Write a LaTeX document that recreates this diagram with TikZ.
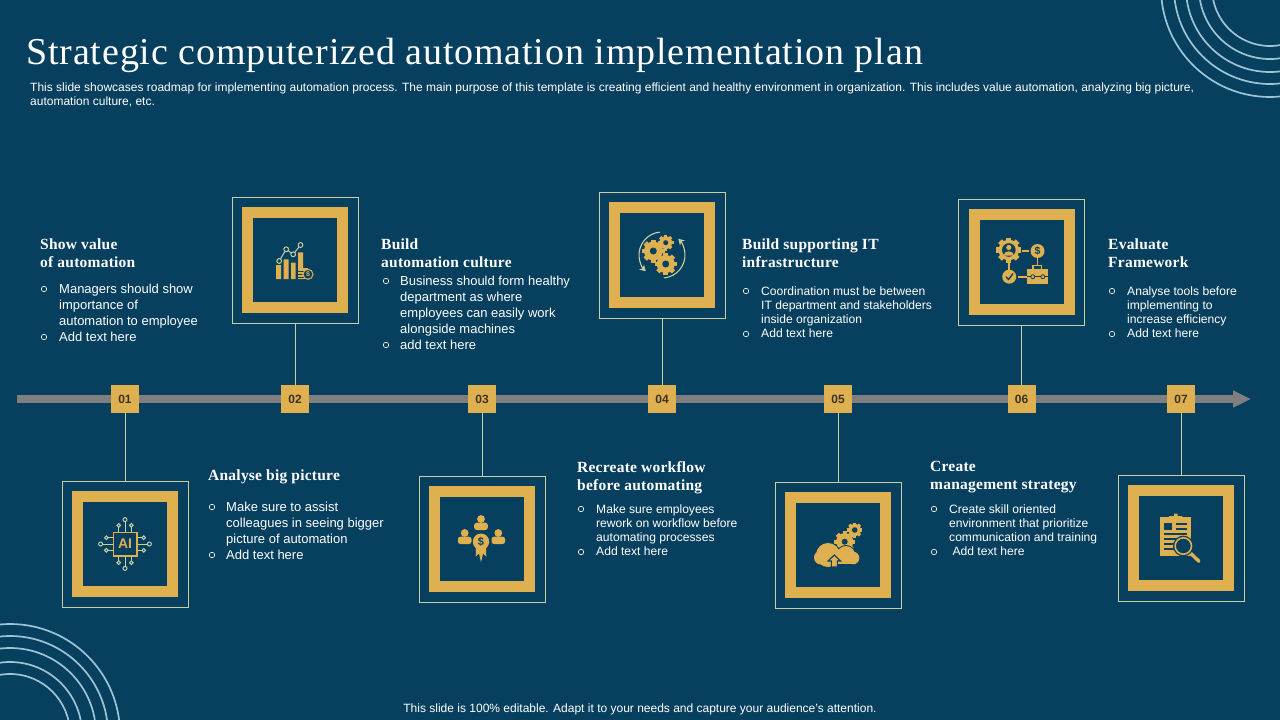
\documentclass[tikz,border=0pt]{standalone}
\usepackage{fontspec}
\setmainfont{Liberation Sans}
\newfontfamily\headfont[LetterSpace=1.5]{Liberation Serif}
\newfontfamily\titlefont[LetterSpace=2.3]{Liberation Serif}
\usetikzlibrary{positioning,arrows.meta,calc}
\definecolor{navy}{HTML}{07405F}
\definecolor{gold}{HTML}{DFB04F}
\definecolor{pale}{HTML}{C6D0A0}
\definecolor{ring}{HTML}{9DC3D6}
\definecolor{barcolor}{HTML}{7F7F7F}
\definecolor{numcolor}{HTML}{3A3320}
\tikzset{step node/.style={rectangle,fill=gold,minimum size=28pt,inner sep=0pt,outer sep=0pt,text=numcolor,font=\fontsize{12}{14}\selectfont\bfseries} }
\tikzset{tile node/.style={rectangle,draw=pale,line width=0.8pt,minimum size=126pt,inner sep=0pt,outer sep=0pt} }
\tikzset{frame node/.style={rectangle,draw=gold,line width=11pt,minimum size=95pt,inner sep=0pt} }
\tikzset{head text/.style={anchor=north west,inner sep=0pt,align=left,text=white,font=\fontsize{15.5}{18}\selectfont\headfont\bfseries} }
\tikzset{big text/.style={anchor=north west,inner sep=0pt,align=left,text=white,font=\fontsize{13}{16}\selectfont} }
\tikzset{small text/.style={anchor=north west,inner sep=0pt,align=left,text=white,font=\fontsize{12.1}{14}\selectfont} }
\tikzset{ring mark/.style={circle,draw=white,line width=0.6pt,minimum size=5.5pt,inner sep=0pt} }
\newcommand{\gearglyph}[4]{
  \fill[gold] (#1,#2) circle ({0.82*#3});
  \foreach \a in {0,45,...,315}
    \draw[gold,line width={0.42*#3}] (#1,#2) ++(\a:{0.7*#3}) -- ++(\a:{0.3*#3});
  \fill[navy] (#1,#2) circle (#4);
}
\newcommand{\personglyph}[2]{
  \fill[gold] (#1,#2) circle (3.9);
  \fill[gold,rounded corners=2.5pt] ({#1-6.8},{#2+3.7}) rectangle ({#1+6.8},{#2+11});
}
\tikzset{
  chart icon/.pic={
    \fill[gold] (-19,5) rectangle (-14,19) (-11.5,-0.7) rectangle (-6.5,19) (-4,2.7) rectangle (0.5,19) (3,-7.7) rectangle (8,19);
    \fill[gold] (3,8) rectangle (13,19);
    \foreach \y in {11,14,17} \draw[navy,line width=0.7pt] (3,\y) -- (13,\y);
    \draw[pale,line width=1pt] (-15.8,1) -- (-8.8,-10.7) -- (-1.8,-5.7) -- (5.5,-15);
    \foreach \p in {(-15.8,1),(-8.8,-10.7),(-1.8,-5.7),(5.5,-15)}
      \draw[pale,line width=1pt,fill=navy] \p circle (2.4);
    \draw[gold,line width=1pt,fill=navy] (13,14.3) circle (5);
    \node[text=gold,inner sep=0pt,font=\fontsize{7}{7}\selectfont\bfseries] (coin) at (13,14.3) {\$};
  },
  gears icon/.pic={
    \gearglyph{-8.7}{-4}{11.5}{3.5}
    \gearglyph{3.7}{-12.3}{7.8}{2.5}
    \gearglyph{3.7}{9}{11}{3.5}
    \draw[pale,line width=1.1pt,-{Stealth[length=6pt,width=7pt]}] (265:23) arc (265:135:23);
    \draw[pale,line width=1.1pt,-{Stealth[length=6pt,width=7pt]}] (85:23) arc (85:-45:23);
  },
  network icon/.pic={
    \draw[gold,line width=1.6pt] (0.5,-11) -- (7,-11) (16,-4) -- (16,3) (-12.5,0) -- (-12.5,8) (-4,14.7) -- (5,14.7);
    \gearglyph{-12.7}{-12}{12.5}{6.8}
    \fill[gold] (-12.7,-14.5) circle (2.6);
    \fill[gold] (-17.9,-6.5) arc (180:360:5.2 and 4.2) -- cycle;
    \fill[gold] (16,-11) circle (7);
    \node[text=navy,inner sep=0pt,font=\fontsize{10.5}{10.5}\selectfont\bfseries] (dollar) at (16,-11) {\$};
    \fill[gold] (-12.3,14.7) circle (7);
    \draw[navy,line width=1.3pt] (-15.5,14.7) -- (-13,17.5) -- (-8.5,11.5);
    \draw[gold,line width=1.4pt] (11.5,7) -- (11.5,3.5) -- (20,3.5) -- (20,7);
    \fill[gold] (5.3,7) rectangle (26,22.3);
    \draw[navy,line width=0.8pt] (5.3,14.7) -- (9.3,14.7) (13.3,14.7) -- (19.3,14.7) (23.3,14.7) -- (26,14.7);
    \draw[navy,line width=0.8pt] (11.3,14.7) circle (2) (21.3,14.7) circle (2);
  },
  chip icon/.pic={
    \foreach \a in {0,90,180,270} {
      \begin{scope}[rotate=\a]
        \draw[pale,line width=1pt] (-6.3,-11.7) -- (-6.3,-17) (6.3,-11.7) -- (6.3,-17) (0,-11.7) -- (0,-22.5);
        \draw[pale,line width=1pt] (-6.3,-18.7) circle (1.8) (6.3,-18.7) circle (1.8) (0,-24.4) circle (2);
      \end{scope}
    }
    \draw[gold,line width=1.6pt] (-11.7,-11.7) rectangle (11.7,11.7);
    \node[text=gold,inner sep=0pt,font=\fontsize{14}{14}\selectfont\bfseries] (chip) at (0,0) {AI};
  },
  team icon/.pic={
    \personglyph{-1}{-20}
    \personglyph{-17.3}{-6}
    \personglyph{16.3}{-6}
    \fill[gold] (-1,2.7) circle (8.2);
    \fill[gold] (-6,8) -- (-6.3,17.7) -- (-3,14.5) -- (-1,23.3) -- (1,14.5) -- (4.3,17.7) -- (4,8) -- cycle;
    \node[text=navy,inner sep=0pt,font=\fontsize{11}{11}\selectfont\bfseries] (rocket) at (-1,3) {\$};
  },
  cloud icon/.pic={
    \gearglyph{6.7}{-3.3}{10.5}{3}
    \gearglyph{16.7}{-15}{7.5}{2.8}
    \fill[navy] (-10,10) circle (13) (8,10) circle (10);
    \fill[gold] (-17,12.5) circle (7) (-10,10) circle (12) (8,10) circle (9) (15,13) circle (6.3);
    \fill[gold] (-17,12) rectangle (15,19.3);
    \draw[navy,line width=1.1pt,fill=gold] (-3.7,10) -- (2.5,16) -- (-0.7,16) -- (-0.7,22) -- (-6.7,22) -- (-6.7,16) -- (-9.9,16) -- cycle;
  },
  report icon/.pic={
    \fill[gold] (-21,-21) rectangle (10,18);
    \fill[gold] (-12,-22) rectangle (1.3,-18) (-7,-24.5) rectangle (-3.5,-21);
    \fill[navy] (-16.7,-15) rectangle (-9.3,-7.7);
    \draw[navy,line width=1.6pt] (-5,-14.3) -- (6.3,-14.3) (-5,-9.3) -- (6.3,-9.3) (-16.7,-4.3) -- (6.3,-4.3)
      (-16.7,0.7) -- (-1,0.7) (-16.7,5.7) -- (-6,5.7) (-16.7,10.7) -- (-6,10.7);
    \draw[gold,line width=3.4pt,line cap=round] (9,14.7) -- (18,23.3);
    \draw[navy,line width=3.6pt] (2.3,8) circle (8.5);
    \draw[gold,line width=1.6pt,fill=navy] (2.3,8) circle (8.2);
  }
}

\begin{document}
\begin{tikzpicture}[x=1pt,y=-1pt]
\useasboundingbox (0,0) rectangle (1280,720);
\fill[navy] (0,0) rectangle (1280,720);
\begin{scope}
  \clip (0,0) rectangle (1280,720);
  \foreach \r in {58,71,84,96,109}
    \draw[ring,line width=1.7pt] (1270,-12) circle (\r);
  \foreach \r in {60,72,86,98,110}
    \draw[ring,line width=1.7pt] (10,734) circle (\r);
\end{scope}

\node[anchor=base west,inner sep=0pt,text=white,font=\fontsize{38}{40}\selectfont\titlefont] (title) at (26,64) {Strategic computerized automation implementation plan};
\node[small text,font=\fontsize{12}{14}\selectfont] (intro) at (30,83) {This slide showcases roadmap for implementing automation process. The main purpose of this template is creating efficient and healthy environment in organization. This includes value automation, analyzing big picture,\\automation culture, etc.};
\node[anchor=center,inner sep=0pt,text=white,font=\fontsize{12}{14}\selectfont] (footer) at (640,709) {This slide is 100\% editable. Adapt it to your needs and capture your audience's attention.};

\begin{scope}[on grid]
  \coordinate (barstart) at (17,399);
  \coordinate (barend) at (1251,399);
  \draw[barcolor,line width=8pt,-{Triangle[length=18pt,width=16pt]}] (barstart) -- (barend);

  \node[step node] (b1) at (125,399) {01};
  \node[step node] (b2) [right =170pt of b1] {02};
  \node[step node] (b3) [right =187pt of b2] {03};
  \node[step node] (b4) [right =180pt of b3] {04};
  \node[step node] (b5) [right =176pt of b4] {05};
  \node[step node] (b6) [right =183.5pt of b5] {06};
  \node[step node] (b7) [right =159.5pt of b6] {07};

  \node[tile node] (t1) [below =145pt of b1] {};
  \node[tile node] (t2) [above =139pt of b2] {};
  \node[tile node] (t3) [below =140pt of b3] {};
  \node[tile node] (t4) [above =144pt of b4] {};
  \node[tile node] (t5) [below =146pt of b5] {};
  \node[tile node] (t6) [above =137pt of b6] {};
  \node[tile node] (t7) [below =139pt of b7] {};

  \node[frame node] (f1) at (t1) {};
  \node[frame node] (f2) at (t2) {};
  \node[frame node] (f3) at (t3) {};
  \node[frame node] (f4) at (t4) {};
  \node[frame node] (f5) at (t5) {};
  \node[frame node] (f6) at (t6) {};
  \node[frame node] (f7) at (t7) {};

  \path[draw=pale,line width=0.8pt]
    (b1) edge [-] (t1)
    (b2) edge [-] (t2)
    (b3) edge [-] (t3)
    (b4) edge [-] (t4)
    (b5) edge [-] (t5)
    (b6) edge [-] (t6)
    (b7) edge [-] (t7);

  \pic at (t1) {chip icon};
  \pic at (t2) {chart icon};
  \pic at (t3) {team icon};
  \pic at (t4) {gears icon};
  \pic at (t5) {cloud icon};
  \pic at (t6) {network icon};
  \pic at (t7) {report icon};
\end{scope}

\node[head text] (h1) at (40,239) {Show value\\of automation};
\node[big text] (p1) at (59,283.5) {Managers should show\\importance of\\automation to employee\\Add text here};
\foreach \y [count=\i] in {289,337}
  \node[ring mark] (m1\i) at (44,\y) {};

\node[head text] (h2) at (208,470) {Analyse big picture};
\node[big text] (p2) at (226,502) {Make sure to assist\\colleagues in seeing bigger\\picture of automation\\Add text here};
\foreach \y [count=\i] in {507,555}
  \node[ring mark] (m2\i) at (212,\y) {};

\node[head text] (h3) at (381,239) {Build\\automation culture};
\node[big text] (p3) at (400,275.5) {Business should form healthy\\department as where\\employees can easily work\\alongside machines\\add text here};
\foreach \y [count=\i] in {281,345}
  \node[ring mark] (m3\i) at (386,\y) {};

\node[head text] (h4) at (577,461) {Recreate workflow\\before automating};
\node[small text] (p4) at (596,504.5) {Make sure employees\\rework on workflow before\\automating processes\\Add text here};
\foreach \y [count=\i] in {509,552}
  \node[ring mark] (m4\i) at (581,\y) {};

\node[head text] (h5) at (742,239) {Build supporting IT\\infrastructure};
\node[small text] (p5) at (761,286.5) {Coordination must be between\\IT department and stakeholders\\inside organization\\Add text here};
\foreach \y [count=\i] in {291,334}
  \node[ring mark] (m5\i) at (746,\y) {};

\node[head text] (h6) at (930,461) {Create\\management strategy};
\node[small text] (p6) at (949,504.5) {Create skill oriented\\environment that prioritize\\communication and training\\\ Add text here};
\foreach \y [count=\i] in {509,552}
  \node[ring mark] (m6\i) at (934,\y) {};

\node[head text] (h7) at (1108,239) {Evaluate\\Framework};
\node[small text] (p7) at (1127,286.5) {Analyse tools before\\implementing to\\increase efficiency\\Add text here};
\foreach \y [count=\i] in {291,334}
  \node[ring mark] (m7\i) at (1112,\y) {};
\end{tikzpicture}
\end{document}
